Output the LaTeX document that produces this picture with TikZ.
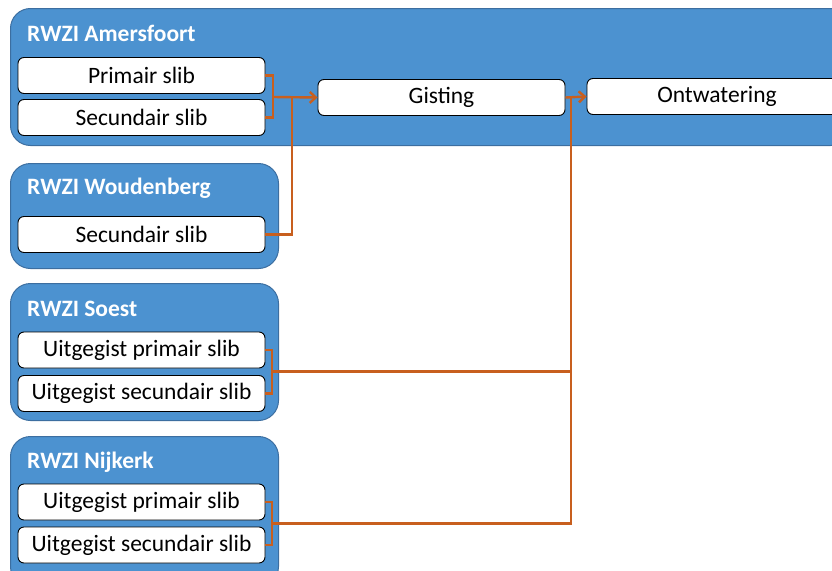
\documentclass[tikz,border=0pt]{standalone}
\usepackage{fontspec}
\setmainfont{Carlito}
\usetikzlibrary{arrows.meta}
\definecolor{rwziblue}{RGB}{76,146,208}
\definecolor{rwziedge}{RGB}{60,110,160}
\definecolor{pipeorange}{RGB}{200,95,30}
\tikzset{
  station/.style={draw=rwziedge, fill=rwziblue, line width=1pt, rounded corners=20pt,
    anchor=north west, inner sep=0pt},
  sludge/.style={draw=black, fill=white, line width=0.9pt, rounded corners=6pt,
    minimum width=247pt, minimum height=36pt, inner sep=0pt,
    font=\fontsize{23.5}{27}\selectfont},
  rwzi/.style={anchor=west, text=white, inner sep=0pt,
    font=\bfseries\fontsize{23.5}{27}\selectfont},
  pipe/.style={draw=pipeorange, line width=2.4pt},
}
\begin{document}
\begin{tikzpicture}[x=1pt,y=-1pt]
\useasboundingbox (0,0) rectangle (832,570);
% installaties
\node[station, minimum width=840pt, minimum height=137pt] (amersfoort) at (10,8) {};
\node[station, minimum width=268pt, minimum height=105pt] (woudenberg) at (10,163) {};
\node[station, minimum width=268pt, minimum height=137pt] (soest) at (10,283) {};
\node[station, minimum width=268pt, minimum height=150pt] (nijkerk) at (10,436) {};
\node[rwzi] (amersfoorttitle) at (27,33) {RWZI Amersfoort};
\node[rwzi] (woudenbergtitle) at (27,188) {RWZI Woudenberg};
\node[rwzi] (soesttitle) at (27,309) {RWZI Soest};
\node[rwzi] (nijkerktitle) at (27,462) {RWZI Nijkerk};
% slibstromen
\node[sludge] (amfprim) at (141.5,75.5) {Primair slib};
\node[sludge] (amfsec) at (141.5,117.5) {Secundair slib};
\node[sludge] (gisting) at (441.5,97.5) {Gisting};
\node[sludge, minimum width=260pt] (ontwatering) at (717,96.5) {Ontwatering};
\node[sludge] (wdbsec) at (141.5,234.5) {Secundair slib};
\node[sludge] (soestprim) at (141.5,350) {Uitgegist primair slib};
\node[sludge] (soestsec) at (141.5,393.5) {Uitgegist secundair slib};
\node[sludge] (nijprim) at (141.5,502) {Uitgegist primair slib};
\node[sludge] (nijsec) at (141.5,545) {Uitgegist secundair slib};
% verbindingen
\coordinate (amfjoin) at (273,97);
\coordinate (wdbjoin) at (292,97);
\coordinate (soestjoin) at (272,371.5);
\coordinate (nijjoin) at (272,523.5);
\coordinate (ontwjoin) at (571,97);
\draw[pipe] (amfprim.east) -| (amfjoin) |- (amfsec.east);
\draw[pipe, -{Straight Barb[length=6pt,width=11pt]}] (amfjoin) -- (gisting.west);
\draw[pipe] (wdbsec.east) -| (wdbjoin);
\draw[pipe] (soestprim.east) -| (soestjoin) |- (soestsec.east);
\draw[pipe] (nijprim.east) -| (nijjoin) |- (nijsec.east);
\draw[pipe] (soestjoin) -- (soestjoin -| ontwjoin);
\draw[pipe] (nijjoin) -| (ontwjoin);
\draw[pipe, -{Straight Barb[length=6pt,width=11pt]}] (gisting.east) -- (ontwatering.west);
\end{tikzpicture}
\end{document}
